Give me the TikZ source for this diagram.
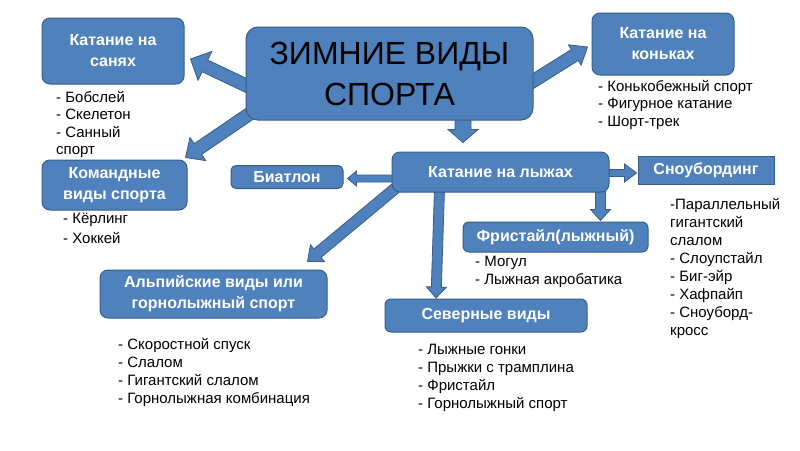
\documentclass[tikz,border=0pt]{standalone}
\usepackage{fontspec}
\setmainfont{Liberation Sans}
\usetikzlibrary{calc}
\definecolor{boxblue}{HTML}{4F81BD}
\definecolor{boxedge}{HTML}{385D8A}
\pgfdeclarelayer{bg}
\pgfdeclarelayer{arrowlayer}
\pgfsetlayers{bg,arrowlayer,main}
\newcommand\blockarrow[5]{%
  \coordinate (bahb) at ($(#2)!#5!(#1)$);
  \filldraw[barrowstyle] ($(#1)!#3!90:(#2)$) -- ($(bahb)!#3!90:(#2)$) -- ($(bahb)!#4!90:(#2)$) -- (#2)
    -- ($(bahb)!#4!-90:(#2)$) -- ($(bahb)!#3!-90:(#2)$) -- ($(#1)!#3!-90:(#2)$) -- cycle;}
\begin{document}
\begin{tikzpicture}[x=1pt,y=-1pt,
  box/.style={draw=boxedge, line width=1pt, fill=boxblue, rounded corners=8pt, text=white,
    font=\fontsize{16}{21}\selectfont\bfseries, align=center, inner sep=0pt},
  listtext/.style={font=\fontsize{15}{17.5}\selectfont, align=left, anchor=north west, inner sep=0pt},
  barrowstyle/.style={fill=boxblue, draw=boxedge, line width=0.8pt, line join=miter}]
\begin{pgfonlayer}{bg}\fill[white] (0,0) rectangle (800,450);\end{pgfonlayer}
\useasboundingbox (0,0) rectangle (800,450);

% boxes
\node[box, minimum width=287pt, minimum height=93pt, rounded corners=12pt, text=black,
  font=\fontsize{32}{41}\selectfont] (main) at (389.5,73.5) {ЗИМНИЕ ВИДЫ\\СПОРТА};
\node[box, minimum width=142pt, minimum height=66pt] (sani) at (113,51) {Катание на\\санях};
\node[box, minimum width=142pt, minimum height=62pt] (konki) at (663,44) {Катание на\\коньках};
\node[box, minimum width=145pt, minimum height=50pt] (komand) at (114.5,185) {Командные\\виды спорта};
\node[box, minimum width=112pt, minimum height=23pt, rounded corners=5pt] (biatlon) at (287,177) {Биатлон};
\node[box, minimum width=217pt, minimum height=40pt] (lyzhi) at (500.5,172) {Катание на лыжах};
\node[box, minimum width=136pt, minimum height=28pt, rounded corners=0pt] (snow) at (706,170) {Сноубординг};
\node[box, minimum width=185pt, minimum height=30pt, rounded corners=6pt] (free) at (555.5,237) {Фристайл(лыжный)};
\node[box, minimum width=227pt, minimum height=48pt] (alp) at (213.5,294) {Альпийские виды или\\горнолыжный спорт};
\node[box, minimum width=202pt, minimum height=33pt, rounded corners=6pt] (sever) at (486,315.5) {Северные виды};

% lists
\node[listtext] (sanilist) at (56,91) {- Бобслей\\- Скелетон\\- Санный\\спорт};
\node[listtext] (konkilist) at (598,80) {- Конькобежный спорт\\- Фигурное катание\\- Шорт-трек};
\node[listtext, font=\fontsize{15}{20}\selectfont] (komandlist) at (63,213) {- Кёрлинг\\- Хоккей};
\node[listtext] (freelist) at (475,256) {- Могул\\- Лыжная акробатика};
\node[listtext, font=\fontsize{15}{18}\selectfont] (snowlist) at (670,198) {-Параллельный\\гигантский\\слалом\\- Слоупстайл\\- Биг-эйр\\- Хафпайп\\- Сноуборд-\\кросс};
\node[listtext, font=\fontsize{15}{18}\selectfont] (alplist) at (118,338) {- Скоростной спуск\\- Слалом\\- Гигантский слалом\\- Горнолыжная комбинация};
\node[listtext, font=\fontsize{15}{18}\selectfont] (severlist) at (418,344) {- Лыжные гонки\\- Прыжки с трамплина\\- Фристайл\\- Горнолыжный спорт};

% block arrows
\begin{pgfonlayer}{arrowlayer}
\coordinate (a1s) at ($(main.west)+(6,14.5)$);
\coordinate (a1t) at ($(sani.east)+(6,8)$);
\blockarrow{a1s}{a1t}{6.5pt}{16pt}{16pt}
\coordinate (a2s) at ($(main.south west)+(9,-10)$);
\coordinate (a2t) at ($(komand.north east)+(-2,-2)$);
\blockarrow{a2s}{a2t}{6.5pt}{14pt}{15pt}
\coordinate (a3s) at ($(main.east)+(-5,10.5)$);
\coordinate (a3t) at ($(konki.west)+(-4,3)$);
\blockarrow{a3s}{a3t}{6.5pt}{12pt}{15pt}
\coordinate (a4s) at ($(main.south)+(73.5,-5)$);
\coordinate (a4t) at ($(lyzhi.north)+(-37.5,-9)$);
\blockarrow{a4s}{a4t}{8pt}{15pt}{13pt}
\coordinate (a5s) at ($(lyzhi.west)+(3,6.5)$);
\coordinate (a5t) at ($(biatlon.east)+(4,1.5)$);
\blockarrow{a5s}{a5t}{3.5pt}{7.5pt}{9pt}
\coordinate (a6s) at ($(lyzhi.east)+(-4,1)$);
\coordinate (a6t) at ($(snow.west)+(-1,3)$);
\blockarrow{a6s}{a6t}{3.5pt}{9pt}{12pt}
\coordinate (a7s) at ($(lyzhi.south east)+(-9,-4)$);
\coordinate (a7t) at ($(free.north east)+(-48,-1)$);
\blockarrow{a7s}{a7t}{5pt}{10pt}{11pt}
\coordinate (a8s) at ($(lyzhi.south west)+(6,-6)$);
\coordinate (a8t) at ($(alp.north east)+(-20,-8)$);
\blockarrow{a8s}{a8t}{5.5pt}{11pt}{13pt}
\coordinate (a9s) at ($(lyzhi.south west)+(48,-4)$);
\coordinate (a9t) at ($(sever.north)+(-50,-0.5)$);
\blockarrow{a9s}{a9t}{5pt}{10pt}{11pt}
\end{pgfonlayer}
\end{tikzpicture}
\end{document}
